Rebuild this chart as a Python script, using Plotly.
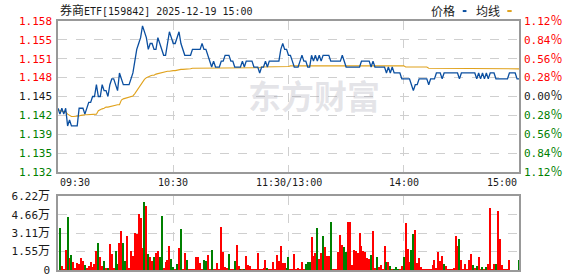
import plotly.graph_objects as go

# ---------------- data ----------------
prev_close = 1.145
pct_levels = [1.12, 0.84, 0.56, 0.28, 0.00, -0.28, -0.56, -0.84, -1.12]
price_labels = ["1.158", "1.155", "1.151", "1.148", "1.145", "1.142", "1.139", "1.135", "1.132"]
pct_labels = ["1.12", "0.84", "0.56", "0.28", "0.00", "0.28", "0.56", "0.84", "1.12"]
vol_tick_vals = [0, 1.555, 3.11, 4.665, 6.22]
vol_tick_labels = ["0", "1.55", "3.11", "4.66", "6.22"]
time_pos = [0, 60, 120, 180, 240]
time_labels = ["09:30", "10:30", "11:30/13:00", "14:00", "15:00"]

price = [
    1.143, 1.142, 1.143, 1.142, 1.143, 1.140, 1.141, 1.140, 1.140, 1.140, 1.140,
    1.143, 1.143, 1.143, 1.142, 1.143, 1.144, 1.144, 1.145, 1.145, 1.147,
    1.145, 1.145, 1.147, 1.146, 1.146, 1.145, 1.147, 1.148, 1.148, 1.147,
    1.146, 1.149, 1.148, 1.147, 1.147, 1.147, 1.147, 1.148, 1.149, 1.151,
    1.153, 1.154, 1.155, 1.157, 1.156, 1.155, 1.153, 1.154, 1.154, 1.153,
    1.153, 1.155, 1.154, 1.153, 1.152, 1.152, 1.154, 1.156, 1.155, 1.154,
    1.154, 1.155, 1.156, 1.154, 1.153, 1.152, 1.152, 1.152, 1.152, 1.153,
    1.153, 1.153, 1.153, 1.153, 1.154, 1.153, 1.153, 1.152, 1.151, 1.150,
    1.151, 1.150, 1.150, 1.150, 1.151, 1.151, 1.152, 1.152, 1.152, 1.151,
    1.151, 1.150, 1.150, 1.150, 1.150, 1.151, 1.150, 1.151, 1.151, 1.151,
    1.151, 1.150, 1.150, 1.150, 1.149, 1.150, 1.150, 1.151, 1.150, 1.151,
    1.151, 1.151, 1.151, 1.151, 1.151, 1.153, 1.154, 1.153, 1.153, 1.152,
    1.152, 1.151, 1.150, 1.150, 1.150, 1.151, 1.152, 1.151, 1.151, 1.150,
    1.150, 1.152, 1.151, 1.152, 1.151, 1.152, 1.151, 1.152, 1.152, 1.152,
    1.152, 1.151, 1.151, 1.151, 1.151, 1.151, 1.151, 1.152, 1.151, 1.150,
    1.150, 1.150, 1.150, 1.150, 1.150, 1.150, 1.150, 1.151, 1.151, 1.151,
    1.151, 1.151, 1.150, 1.151, 1.150, 1.150, 1.150, 1.150, 1.150, 1.150,
    1.149, 1.150, 1.149, 1.150, 1.149, 1.149, 1.149, 1.149, 1.148, 1.148,
    1.148, 1.148, 1.148, 1.147, 1.146, 1.147, 1.147, 1.148, 1.148, 1.148,
    1.148, 1.148, 1.147, 1.148, 1.148, 1.148, 1.149, 1.149, 1.149, 1.148,
    1.149, 1.149, 1.149, 1.149, 1.149, 1.149, 1.149, 1.149, 1.148, 1.149,
    1.149, 1.149, 1.149, 1.149, 1.149, 1.149, 1.149, 1.148, 1.149, 1.148,
    1.149, 1.148, 1.149, 1.148, 1.149, 1.149, 1.149, 1.148, 1.148, 1.148,
    1.148, 1.148, 1.148, 1.148, 1.149, 1.149, 1.149, 1.149, 1.148, 1.148,
]

avg_price = [
    1.1428, 1.1426, 1.1425, 1.1424, 1.1424, 1.1420, 1.1418, 1.1416, 1.1416, 1.1416, 1.1416,
    1.1417, 1.1418, 1.1419, 1.1419, 1.1419, 1.1419, 1.1419, 1.1419, 1.1419, 1.1420,
    1.1426, 1.1428, 1.1429, 1.1430, 1.1432, 1.1432, 1.1433, 1.1434, 1.1435, 1.1435,
    1.1436, 1.1436, 1.1444, 1.1446, 1.1447, 1.1448, 1.1448, 1.1449, 1.1451, 1.1455,
    1.1460, 1.1465, 1.1470, 1.1475, 1.1479, 1.1482, 1.1484, 1.1485, 1.1486, 1.1486,
    1.1488, 1.1489, 1.1490, 1.1491, 1.1492, 1.1493, 1.1493, 1.1493, 1.1494, 1.1494,
    1.1494, 1.1495, 1.1495, 1.1496, 1.1496, 1.1496, 1.1497, 1.1497, 1.1497, 1.1498,
    1.1498, 1.1498, 1.1498, 1.1498, 1.1498, 1.1498, 1.1498, 1.1498, 1.1498, 1.1498,
    1.1498, 1.1498, 1.1498, 1.1498, 1.1498, 1.1498, 1.1498, 1.1498, 1.1498, 1.1498,
    1.1499, 1.1499, 1.1499, 1.1499, 1.1499, 1.1499, 1.1499, 1.1499, 1.1499, 1.1499,
    1.1499, 1.1499, 1.1499, 1.1499, 1.1499, 1.1500, 1.1500, 1.1500, 1.1500, 1.1500,
    1.1500, 1.1500, 1.1500, 1.1500, 1.1500, 1.1501, 1.1501, 1.1501, 1.1501, 1.1501,
    1.1502, 1.1502, 1.1502, 1.1502, 1.1502, 1.1502, 1.1502, 1.1502, 1.1502, 1.1502,
    1.1502, 1.1502, 1.1502, 1.1502, 1.1502, 1.1502, 1.1502, 1.1502, 1.1502, 1.1502,
    1.1502, 1.1502, 1.1502, 1.1502, 1.1502, 1.1502, 1.1502, 1.1502, 1.1502, 1.1502,
    1.1502, 1.1502, 1.1502, 1.1502, 1.1502, 1.1502, 1.1502, 1.1502, 1.1502, 1.1502,
    1.1502, 1.1502, 1.1502, 1.1502, 1.1502, 1.1502, 1.1502, 1.1502, 1.1502, 1.1502,
    1.1502, 1.1502, 1.1502, 1.1502, 1.1502, 1.1502, 1.1502, 1.1502, 1.1502, 1.1502,
    1.1500, 1.1500, 1.1500, 1.1500, 1.1500, 1.1500, 1.1500, 1.1500, 1.1500, 1.1500,
    1.1500, 1.1500, 1.1498, 1.1498, 1.1498, 1.1498, 1.1498, 1.1498, 1.1498, 1.1498,
    1.1498, 1.1498, 1.1498, 1.1498, 1.1498, 1.1498, 1.1498, 1.1498, 1.1498, 1.1498,
    1.1498, 1.1498, 1.1498, 1.1498, 1.1497, 1.1497, 1.1497, 1.1497, 1.1497, 1.1497,
    1.1497, 1.1497, 1.1497, 1.1497, 1.1497, 1.1497, 1.1497, 1.1497, 1.1497, 1.1497,
    1.1497, 1.1497, 1.1497, 1.1497, 1.1497, 1.1497, 1.1497, 1.1497, 1.1497, 1.1497,
]

# volume in 万 (10k shares), one per minute
volume = [
    0.00, 3.55, 0.31, 0.05, 1.66, 4.47, 0.96, 1.24, 0.68, 0.11, 0.53,
    0.45, 1.01, 0.76, 0.39, 0.10, 0.28, 0.68, 0.25, 0.51, 1.60,
    2.28, 1.10, 0.34, 0.76, 0.08, 0.10, 2.14, 1.29, 0.08, 1.58,
    0.45, 2.22, 3.29, 2.22, 0.76, 2.87, 0.08, 1.58, 1.18, 3.07,
    2.98, 4.67, 4.33, 1.80, 5.74, 5.35, 1.29, 1.10, 0.73, 1.10,
    1.44, 1.60, 1.10, 4.56, 0.10, 0.68, 0.82, 2.03, 0.93, 0.25,
    0.05, 0.45, 1.86, 3.40, 0.05, 1.44, 0.84, 0.05, 0.05, 0.05,
    0.05, 1.10, 1.10, 0.59, 0.05, 0.84, 0.76, 1.27, 0.05, 1.66,
    0.05, 0.05, 0.59, 0.05, 3.63, 1.52, 0.25, 0.17, 1.35, 0.05,
    0.05, 0.76, 2.11, 0.34, 0.05, 0.05, 0.05, 1.18, 0.42, 0.34,
    0.05, 0.05, 0.05, 1.44, 0.05, 0.05, 0.17, 0.84, 0.17, 0.05,
    0.05, 0.68, 0.05, 1.27, 0.76, 2.03, 0.59, 0.59, 0.17, 1.10,
    0.05, 0.05, 1.35, 0.05, 0.17, 0.05, 0.68, 0.05, 0.50, 0.68,
    0.68, 2.79, 1.18, 1.44, 3.55, 0.93, 1.44, 2.87, 1.94, 1.18,
    1.18, 4.06, 0.05, 0.05, 0.05, 1.52, 2.96, 2.11, 1.94, 1.52,
    4.06, 4.06, 0.42, 1.69, 1.60, 1.44, 3.13, 2.03, 1.60, 1.52,
    1.01, 0.93, 1.27, 3.30, 0.17, 1.10, 0.25, 0.42, 0.05, 2.03,
    0.68, 0.68, 0.34, 0.05, 0.05, 0.25, 0.05, 0.05, 0.34, 1.10,
    3.92, 1.77, 0.68, 1.69, 3.04, 3.38, 0.59, 1.01, 0.25, 0.05,
    0.05, 0.05, 0.05, 0.05, 0.42, 0.85, 0.17, 1.52, 0.76, 1.18,
    0.50, 0.34, 0.05, 0.05, 0.05, 0.17, 2.87, 2.03, 2.62, 0.85,
    0.05, 0.50, 0.05, 0.85, 1.35, 0.42, 0.17, 0.34, 1.10, 0.05,
    0.25, 0.05, 0.25, 0.50, 5.24, 0.05, 0.50, 0.50, 4.99, 2.62,
    0.42, 0.05, 0.05, 0.05, 0.85, 0.00, 0.00, 0.00, 0.00, 0.85,
]

# bar direction: "r" = up (red), "g" = down (green)
vol_dir = list(
    "rgrrrgrgrrr"
    "rrrgrrrrrr"
    "grrgrgrrrg"
    "grrggrrrrr"
    "rrrrgrgrrg"
    "rrggrrrrgg"
    "rgrgrrgrrr"
    "rrrrrggrrg"
    "rrrrrrrrgr"
    "rgrrgrgrrr"
    "rrrrrrrrgr"
    "rrrrrrrrgg"
    "rrrrrrrrgg"
    "grrrgrrgrr"
    "rgrrrrrrgg"
    "rrrrrrrrrr"
    "rrgrrgrrrr"
    "grgrgggrrg"
    "rrrggrrrrr"
    "rrrrrrrrrr"
    "grrrrrrrgr"
    "rrrrrgrgrr"
    "grgrrrrgrr"
    "rrrrrrrrrg"
)

minutes = list(range(len(price)))

# ---------------- styling ----------------
RED = "#ff0000"
GREEN = "#008000"
DARK = "#1a1a1a"
GRID = "#cfcfcf"
BORDER = "#999999"
MONO = "DejaVu Sans Mono, Liberation Mono, Noto Sans CJK SC, monospace"
CJK = "Noto Sans CJK SC, sans-serif"

price_vals = [prev_close * (1 + p / 100) for p in pct_levels]
ymin, ymax = price_vals[-1], price_vals[0]


def col_for(p):
    if p > 0:
        return RED
    if p < 0:
        return GREEN
    return DARK


left_text = [f"<span style='color:{col_for(p)}'>{t}</span>" for p, t in zip(pct_levels, price_labels)]
right_text = [
    f"<span style='color:{col_for(p)}'>{t}<span style='font-family:Noto Sans CJK SC;font-size:12px'>％</span></span>"
    for p, t in zip(pct_levels, pct_labels)
]
vol_text = [
    (t if t == "0" else f"{t}<span style='font-family:Noto Sans CJK SC;font-size:12px'>万</span>")
    for t in vol_tick_labels
]

fig = go.Figure()

fig.add_trace(go.Bar(
    x=minutes, y=volume, xaxis="x2", yaxis="y2",
    marker=dict(color=[RED if d == "r" else GREEN for d in vol_dir], line=dict(width=0)),
    width=0.55, showlegend=False, hoverinfo="skip",
))
fig.add_trace(go.Scatter(
    x=minutes, y=avg_price, xaxis="x", yaxis="y", mode="lines",
    line=dict(color="#e0a21c", width=1.1), showlegend=False, hoverinfo="skip",
))
fig.add_trace(go.Scatter(
    x=minutes, y=price, xaxis="x", yaxis="y", mode="lines",
    line=dict(color="#0b4fa0", width=1.3), showlegend=False, hoverinfo="skip",
))
# invisible trace to drive the right axis
fig.add_trace(go.Scatter(
    x=[minutes[0]], y=[prev_close], xaxis="x", yaxis="y3", mode="markers",
    marker=dict(opacity=0), showlegend=False, hoverinfo="skip",
))

top_bottom = 0.3936
vol_top = 0.296

common_x = dict(
    range=[0, 240], tickvals=[60, 120, 180], showticklabels=False, ticks="",
    showgrid=True, gridcolor=GRID, griddash="dash", gridwidth=1,
    showline=True, linecolor=BORDER, linewidth=1.5, mirror=True, zeroline=False,
    fixedrange=True, automargin=False,
)

fig.update_layout(
    width=578, height=276,
    margin=dict(l=58, r=59, t=21, b=6, autoexpand=False),
    paper_bgcolor="white", plot_bgcolor="white",
    xaxis=dict(domain=[0, 1], anchor="y", **common_x),
    xaxis2=dict(domain=[0, 1], anchor="y2", matches="x", **common_x),
    yaxis=dict(
        domain=[top_bottom, 1], range=[ymin, ymax], tickvals=price_vals, ticktext=left_text,
        tickfont=dict(family=MONO, size=11), ticks="", ticklabelstandoff=2, automargin=False,
        ticklabeloverflow="allow",
        showgrid=True, gridcolor=GRID, griddash="dash", gridwidth=1,
        showline=True, linecolor=BORDER, linewidth=1.5, mirror=True, zeroline=False,
    ),
    yaxis3=dict(
        overlaying="y", side="right", anchor="x", range=[ymin, ymax], tickvals=price_vals,
        ticktext=right_text, tickfont=dict(family=MONO, size=11), ticks="", ticklabelstandoff=4,
        ticklabeloverflow="allow",
        showgrid=False, zeroline=False, showline=False, automargin=False,
    ),
    yaxis2=dict(
        domain=[0, vol_top], range=[0, vol_tick_vals[-1]], tickvals=vol_tick_vals, ticktext=vol_text,
        tickfont=dict(family=MONO, size=11, color=DARK), ticks="", ticklabelstandoff=4, automargin=False,
        ticklabeloverflow="allow",
        showgrid=True, gridcolor=GRID, griddash="dash", gridwidth=1,
        showline=True, linecolor=BORDER, linewidth=1.5, mirror=True, zeroline=False,
    ),
    bargap=0,
)

annotations = []
# time labels
anchors = ["left", "center", "center", "center", "right"]
for pos, lab, anc in zip(time_pos, time_labels, anchors):
    annotations.append(dict(
        x=pos, y=0.3534, xref="x", yref="paper", text=lab, showarrow=False,
        xanchor=anc, yanchor="middle", font=dict(family=MONO, size=10, color=DARK),
    ))
# title
annotations.append(dict(
    x=0, y=1.046, xref="paper", yref="paper",
    text="<span style='font-family:Noto Sans CJK SC;font-size:12px'>券商</span>ETF[159842] 2025-12-19 15:00",
    showarrow=False, xanchor="left", yanchor="middle", font=dict(family=MONO, size=10, color=DARK),
))
# legend texts
annotations.append(dict(x=0.835, y=1.044, xref="paper", yref="paper", text="价格", showarrow=False,
                        xanchor="center", yanchor="middle", font=dict(family=CJK, size=12, color=DARK)))
annotations.append(dict(x=0.933, y=1.044, xref="paper", yref="paper", text="均线", showarrow=False,
                        xanchor="center", yanchor="middle", font=dict(family=CJK, size=12, color=DARK)))
# watermark
annotations.append(dict(x=0.555, y=0.703, xref="paper", yref="paper", text="<b>东方财富</b>", showarrow=False,
                        xanchor="center", yanchor="middle",
                        font=dict(family=CJK, size=33, color="rgba(150,150,165,0.25)")))
fig.update_layout(annotations=annotations)

shapes = [
    dict(type="rect", xref="paper", yref="paper", x0=0.878, x1=0.886, y0=1.036, y1=1.044,
         fillcolor="#0b4fa0", line=dict(width=0)),
    dict(type="rect", xref="paper", yref="paper", x0=0.9746, x1=0.9841, y0=1.036, y1=1.044,
         fillcolor="#e0a21c", line=dict(width=0)),
]
fig.update_layout(shapes=shapes)

fig.write_html("out.html", config={"displayModeBar": False})
